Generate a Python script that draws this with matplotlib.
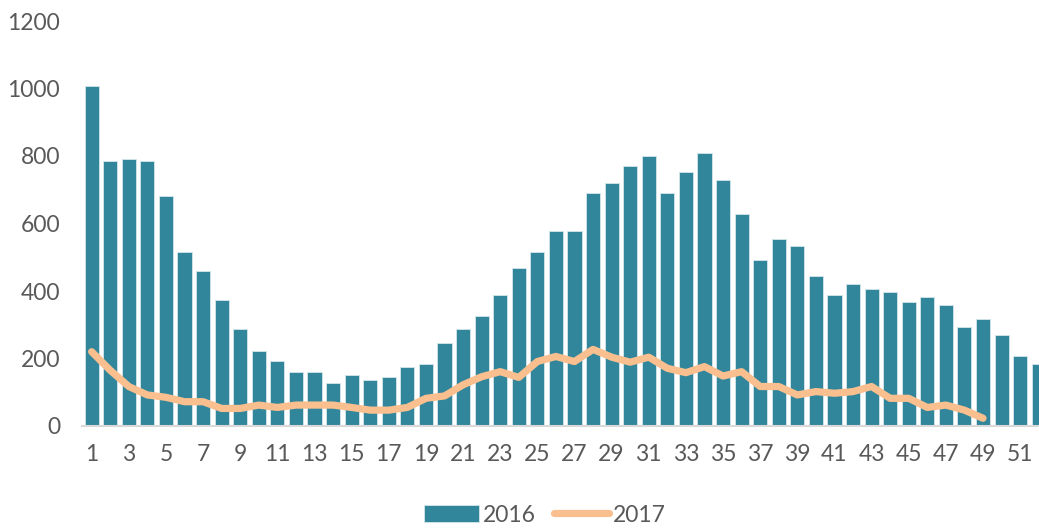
import matplotlib
matplotlib.use("Agg")
import matplotlib.pyplot as plt
import numpy as np

# weekly values
weeks = list(range(1, 53))
vals_2016 = [1006, 784, 792, 784, 681, 515, 460, 374, 287, 222,
             192, 160, 160, 128, 152, 136, 144, 176, 184, 247,
             287, 326, 389, 468, 516, 579, 579, 690, 721, 769,
             801, 690, 753, 809, 730, 627, 492, 555, 532, 445,
             389, 421, 405, 397, 366, 382, 358, 294, 318, 271,
             208, 184]
weeks_2017 = list(range(1, 50))
vals_2017 = [220, 165, 117, 92, 85, 72, 72, 52, 52, 62,
             55, 62, 62, 62, 55, 47, 47, 55, 82, 89,
             122, 146, 161, 144, 191, 206, 191, 227, 204, 189,
             204, 171, 158, 176, 148, 161, 117, 117, 92, 102,
             97, 102, 117, 82, 82, 55, 62, 47, 23]
xticks_shown = list(range(1, 53, 2))

plt.rcParams['font.family'] = ['Lato', 'DejaVu Sans']
grey = "#595959"

W, H = 1039, 529
fig = plt.figure(figsize=(W / 100, H / 100), dpi=100)
# plot area runs past the right edge, like the original (last bar is cut)
left, right, bottom, top = 82.4, 1048, 426, 21
ax = fig.add_axes([left / W, (H - bottom) / H, (right - left) / W, (bottom - top) / H])

bars = ax.bar(weeks, vals_2016, width=0.76, color="#31869B", edgecolor="#D6E6EB",
              linewidth=0.6, label="2016", zorder=2)
line, = ax.plot(weeks_2017, vals_2017, color="#F9BF8F", linewidth=5.2, solid_capstyle="round",
                solid_joinstyle="round", label="2017", zorder=3)

ax.set_xlim(0.5, 52.5)
ax.set_ylim(0, 1200)
ax.set_yticks(np.arange(0, 1201, 200))
ax.set_xticks(xticks_shown)
ax.tick_params(axis="both", length=0, labelsize=16.5, colors=grey)
ax.tick_params(axis="x", pad=13)
ax.tick_params(axis="y", pad=16)

for s in ["top", "right", "left"]:
    ax.spines[s].set_visible(False)
ax.spines["bottom"].set_color("#D9D9D9")
ax.spines["bottom"].set_linewidth(1.5)

leg = fig.legend([bars, line], ["2016", "2017"], loc="center",
                 bbox_to_anchor=(545 / W, (H - 515) / H), ncol=2,
                 frameon=False, fontsize=16.5, handlelength=2.4, handletextpad=0.15,
                 columnspacing=0.8, borderaxespad=0)
for t in leg.get_texts():
    t.set_color(grey)

fig.savefig("out.png", dpi=100)
